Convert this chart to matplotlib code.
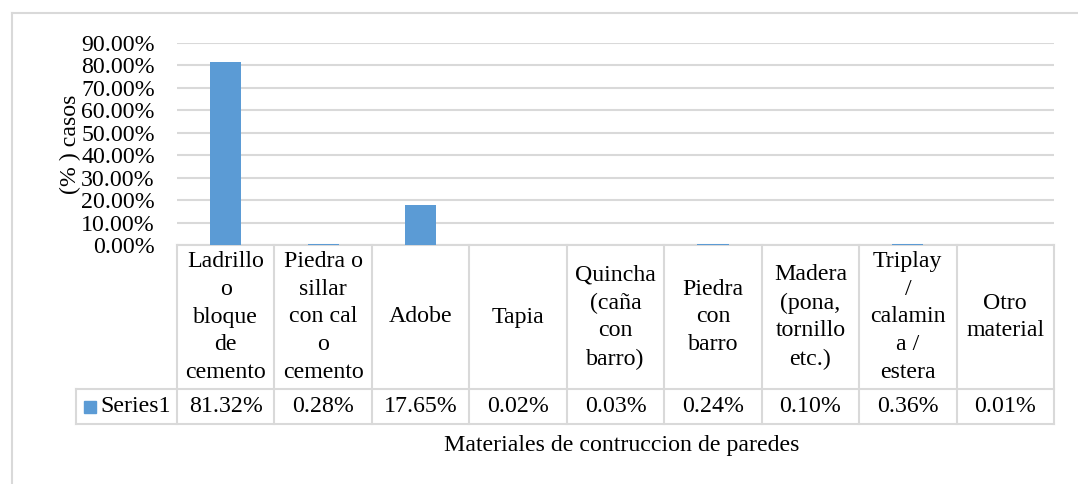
import matplotlib
matplotlib.use('Agg')
import matplotlib.pyplot as plt
from matplotlib.ticker import PercentFormatter
from matplotlib.transforms import blended_transform_factory
from matplotlib.lines import Line2D
from matplotlib.patches import Rectangle

plt.rcParams['font.family'] = ['Liberation Serif', 'DejaVu Serif']

# datos
categorias = ['Ladrillo\no\nbloque\nde\ncemento', 'Piedra o\nsillar\ncon cal\no\ncemento',
              'Adobe', 'Tapia', 'Quincha\n(caña\ncon\nbarro)', 'Piedra\ncon\nbarro',
              'Madera\n(pona,\ntornillo\netc.)', 'Triplay\n/\ncalamin\na /\nestera',
              'Otro\nmaterial']
valores = [0.8132, 0.0028, 0.1765, 0.0002, 0.0003, 0.0024, 0.0010, 0.0036, 0.0001]
etiquetas = ['81.32%', '0.28%', '17.65%', '0.02%', '0.03%', '0.24%', '0.10%', '0.36%', '0.01%']
serie = 'Series1'
yticks = [0, 0.1, 0.2, 0.3, 0.4, 0.5, 0.6, 0.7, 0.8, 0.9]

azul = '#5B9BD5'
gris = '#D9D9D9'
fs = 17.2

W, H = 1078, 484
fig = plt.figure(figsize=(W / 100, H / 100), dpi=100)

# borde del grafico
fig.add_artist(Line2D([12 / W, 12 / W], [0, 1 - 13 / H], color=gris, lw=1.5))
fig.add_artist(Line2D([12 / W, 1], [1 - 13 / H, 1 - 13 / H], color=gris, lw=1.5))

ax = fig.add_axes([177 / W, (H - 245) / H, 877 / W, 202 / H])
n = len(categorias)
x = list(range(n))
ax.bar(x, valores, width=0.32, color=azul, zorder=3)
ax.set_xlim(-0.5, n - 0.5)
ax.set_ylim(0, 0.9)
ax.set_yticks(yticks)
ax.yaxis.set_major_formatter(PercentFormatter(xmax=1, decimals=2))
ax.grid(axis='y', color=gris, lw=1.5, zorder=0)
ax.set_xticks([])
for s in ax.spines.values():
    s.set_visible(False)
ax.tick_params(axis='y', length=0, pad=16, labelsize=fs)
ax.set_ylabel('(% ) casos', fontsize=fs, labelpad=0)

# tabla de datos
tr = blended_transform_factory(ax.transData, ax.transAxes)
ax_h = 202.0
y_top = 0.0
y_mid = -(389 - 245) / ax_h
y_bot = -(424 - 245) / ax_h
x_leg = -0.5 - 101 / 97.4

def linea(xs, ys):
    ax.add_line(Line2D(xs, ys, transform=tr, color=gris, lw=1.5, clip_on=False))

linea([-0.5, n - 0.5], [y_top, y_top])
linea([x_leg, n - 0.5], [y_mid, y_mid])
linea([x_leg, n - 0.5], [y_bot, y_bot])
linea([x_leg, x_leg], [y_mid, y_bot])
for i in range(n + 1):
    linea([i - 0.5, i - 0.5], [y_top, y_bot])

for i in range(n):
    ax.text(x[i], (y_top + y_mid) / 2, categorias[i], transform=tr, ha='center',
            va='center', fontsize=fs, linespacing=1.43, multialignment='center')
    ax.text(x[i], (y_mid + y_bot) / 2, etiquetas[i], transform=tr, ha='center',
            va='center', fontsize=fs)

# leyenda en la tabla
ax.add_patch(Rectangle((x_leg + 8 / 97.4, (y_mid + y_bot) / 2 - 6 / ax_h), 12 / 97.4, 12 / ax_h,
                       transform=tr, color=azul, clip_on=False))
ax.text(x_leg + 24 / 97.4, (y_mid + y_bot) / 2, serie, transform=tr, ha='left',
        va='center', fontsize=fs)

fig.text(622 / W, 1 - 446 / H, 'Materiales de contruccion de paredes', ha='center',
         va='center', fontsize=fs)

fig.savefig('out.png', dpi=100)
